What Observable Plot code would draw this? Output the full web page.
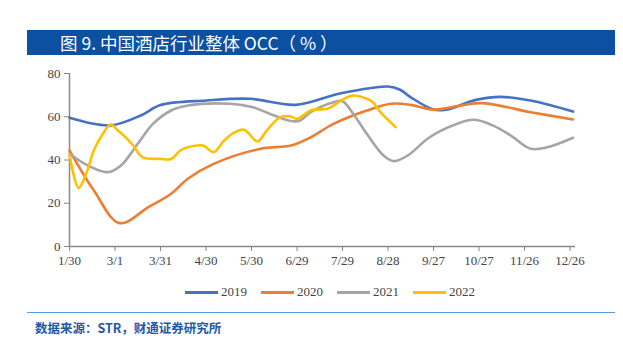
<!DOCTYPE html>
<html><head><meta charset="utf-8">
<script src="https://cdn.jsdelivr.net/npm/d3@7"></script>
<script src="https://cdn.jsdelivr.net/npm/@observablehq/plot@0.6"></script>
<style>
body{margin:0;background:#fff;width:623px;height:338px;position:relative;overflow:hidden;font-family:"Noto Sans CJK SC","Noto Sans",sans-serif}
#title{position:absolute;left:27px;top:30px;width:588px;height:25px;background:#0b50a1;color:#fff;font-size:17.5px;line-height:25px;padding-left:33px;box-sizing:border-box;white-space:nowrap}
#chart{position:absolute;left:0;top:60px}
#legend{position:absolute;top:283px;left:185px;height:18px;display:flex;align-items:center;font-family:"Liberation Serif","Times New Roman",serif;font-size:13px;color:#444}
.item{display:flex;align-items:center;margin-right:14px}
.sw{width:33px;height:3px;margin-right:3px}
#rule{position:absolute;left:27px;top:312px;width:588px;height:1px;background:#5b9bd5}
#foot{position:absolute;left:35px;top:318px;font-size:12.5px;font-weight:bold;color:#2457a8;white-space:nowrap}
</style></head>
<body>
<div id="title">图 9. 中国酒店行业整体 OCC（ % ）</div>
<div id="chart"></div>
<div id="legend"></div>
<div id="rule"></div>
<div id="foot">数据来源：STR，财通证券研究所</div>
<script>
// x = day of year, y = OCC (%)
const tickDays = [30,60,90,120,150,180,210,240,270,300,330,360];
const tickLabels = ["1/30","3/1","3/31","4/30","5/30","6/29","7/29","8/28","9/27","10/27","11/26","12/26"];
const seriesNames = ["2019","2020","2021","2022"];
const seriesColors = ["#4472c4","#ed7d31","#a5a5a5","#ffc000"];

const days2019 = [30,57,77,90,120,149,179,209,240,248,255,270,278,298,314,334,362];
const occ2019  = [59.5,56,60.6,65.4,67.5,68.3,65.5,70.9,74,72.5,69,63.3,63.2,67.8,69.2,67.5,62.4];

const days2020 = [30,46,63,82,97,108,125,156,176,189,204,226,242,255,270,301,334,362];
const occ2020  = [44.5,26,10.8,18.2,24.4,31.3,38.2,45.2,46.7,50.5,56.7,62.9,66,65.5,63.3,66.3,62.1,58.7];

const days2021 = [30,42,55,64,75,85,97,108,136,151,162,176,182,189,204,210,217,226,237,244,253,266,275,296,309,321,334,345,362];
const occ2021  = [42.9,37.5,34.4,37.5,47.5,56.7,62.9,65.2,66,64.4,61.4,58,58.3,62.1,66.7,67.2,61.4,52.1,42.1,39.5,42.1,49.8,53.6,58.6,56,51.3,45.2,45.9,50.3];

const days2022 = [30,36,41,46,52,57,62,68,72,78,90,97,103,108,118,125,132,138,145,154,160,169,176,180,189,200,204,211,217,226,230,235,245];
const occ2022  = [42.5,27.1,33.6,44.4,52.1,56.4,53.6,49.8,46.7,41.3,40.5,40.5,44.4,45.9,46.7,43.6,49,52.4,54,48.6,53.6,59.8,60.1,59,62.9,63.7,65.2,68.3,69.8,68.3,66.7,62.1,55.2];

const allDays = [days2019,days2020,days2021,days2022];
const allOcc = [occ2019,occ2020,occ2021,occ2022];
const rows = [];
seriesNames.forEach((s,i)=>allDays[i].forEach((d,j)=>rows.push({series:s,day:d,occ:allOcc[i][j]})));

const labelOf = new Map(tickDays.map((d,i)=>[d,tickLabels[i]]));
const chart = Plot.plot({
  width:623, height:220,
  marginLeft:69, marginRight:48, marginTop:13, marginBottom:34,
  style:{fontFamily:'"Liberation Serif","Times New Roman",serif',fontSize:"13px",color:"#444",background:"transparent"},
  x:{domain:[30,363.6], label:null},
  y:{domain:[0,80], label:null},
  color:{domain:seriesNames, range:seriesColors},
  marks:[
    Plot.axisX({ticks:tickDays, tickFormat:d=>labelOf.get(d), tickSize:5, tickPadding:4, stroke:"#888", fontSize:13}),
    Plot.axisY({ticks:[0,20,40,60,80], tickSize:5, tickPadding:4, stroke:"#888", fontSize:13}),
    Plot.ruleY([0],{stroke:"#888",strokeWidth:1.5}),
    Plot.ruleX([30],{stroke:"#888",strokeWidth:1.5}),
    Plot.line(rows,{x:"day",y:"occ",z:"series",stroke:"series",strokeWidth:2.6,curve:"catmull-rom"})
  ]
});
document.getElementById("chart").appendChild(chart);

const lg = document.getElementById("legend");
seriesNames.forEach((s,i)=>{
  const it = document.createElement("div"); it.className="item";
  const sw = document.createElement("div"); sw.className="sw"; sw.style.background=seriesColors[i];
  const t = document.createElement("span"); t.textContent=s;
  it.appendChild(sw); it.appendChild(t); lg.appendChild(it);
});
</script>
</body></html>
